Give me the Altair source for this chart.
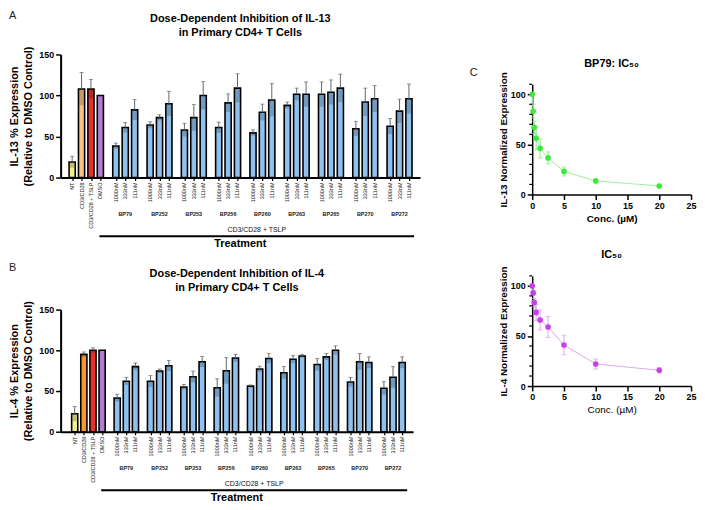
import altair as alt
import pandas as pd

# ---------------- data ----------------
controls = ["NT", "CD3/CD28", "CD3/CD28 + TSLP", "DMSO"]
compounds = ["BP79", "BP252", "BP253", "BP256", "BP260", "BP263", "BP265", "BP270", "BP272"]
doses = ["1000nM", "333nM", "111nM"]

il13_ctrl_mean = [19, 108, 108, 100]
il13_ctrl_err = [7, 20, 11.5, 0]
il13_mean = [[38.5, 61, 82.5], [64, 73, 90], [58, 73, 100], [61, 91, 109], [54.5, 79.5, 94.5],
             [88, 101.5, 101.5], [101.5, 104, 109], [59.5, 92, 96], [62.5, 81, 96]]
il13_err = [[3.5, 6, 12.5], [4, 3.5, 15], [8, 16, 17], [6.5, 11, 17.5], [3.5, 10, 20],
            [4, 7.5, 15], [15, 15, 17], [9, 17, 16], [9.5, 14.5, 18]]

il4_ctrl_mean = [22, 95, 100, 100]
il4_ctrl_err = [9, 3, 3, 0]
il4_mean = [[41.5, 62, 80], [62, 74.5, 81], [55, 67.5, 86], [54, 75, 90.5], [56, 77, 90],
            [72.5, 89, 93], [82.5, 92, 100], [61, 86, 85], [53.5, 67, 85]]
il4_err = [[4.5, 4.5, 4.5], [7, 2.5, 6.5], [3, 7, 6.5], [11, 16, 4.5], [1.5, 3.5, 6],
           [7.5, 4.5, 2], [7.5, 4, 5.5], [5.5, 10, 7], [8, 13, 7]]

conc = [0, 0.156, 0.3125, 0.625, 1.25, 2.5, 5, 10, 20]
il13_ic = [100, 83, 67, 56, 46, 36.5, 23, 13.5, 8.5]
il13_ic_err = [0, 7, 6, 11.5, 9.5, 6, 4.5, 1.5, 1]
il4_ic = [100, 93, 83.5, 73.5, 66, 59, 41, 22, 15.8]
il4_ic_err = [0, 2, 4, 8, 10, 10.5, 9.7, 5, 2.7]
minor_ticks = [10, 20, 30, 40, 60, 70, 80, 90, 110]

ctrl_colors_a = ["#f3ef8c", "#f8c37e", "#e8312b", "#b27ccf"]
ctrl_colors_b = ["#f3ef8c", "#f29a30", "#ea2f2a", "#b27ccf"]
treat_color = "#8fc1ef"

FONT = "Liberation Sans, Arial, Helvetica, sans-serif"


def bar_panel(ctrl_mean, ctrl_err, mean, err, ctrl_colors, title, ytitle, letter, letter_y,
              width, plot_h, top, xdom):
    rows = []
    for i, lab in enumerate(controls):
        rows.append(dict(pos=float(i), label=lab, mean=ctrl_mean[i], err=ctrl_err[i], fill=ctrl_colors[i]))
    for g in range(len(compounds)):
        for k, d in enumerate(doses):
            rows.append(dict(pos=round(4.65 + g * 3.65 + k, 2), label=d, mean=mean[g][k],
                             err=err[g][k], fill=treat_color))
    df = pd.DataFrame(rows)
    df["lo"] = df["mean"] - df["err"]
    df["hi"] = df["mean"] + df["err"]
    dfe = df[df["err"] > 0]

    H = top + plot_h
    xscale = alt.Scale(domain=xdom, nice=False, zero=False)
    yscale = alt.Scale(domain=[0, 150], nice=False, range=[H, top])
    xaxis = alt.Axis(values=list(df["pos"]), labels=False, tickSize=3, tickWidth=1.2, tickColor="black",
                     domainWidth=2, domainColor="black", grid=False, title=None)
    yaxis = alt.Axis(values=[0, 50, 100, 150], title=ytitle, titleFontSize=11, titleFontWeight="bold",
                     titleLineHeight=14, titlePadding=5, labelFontSize=9, labelFontWeight="bold",
                     labelColor="black", labelPadding=2, tickSize=5, tickWidth=1.5, tickColor="black",
                     domainWidth=2, domainColor="black", grid=False, titleColor="black")

    def X(f="pos"):
        return alt.X(f + ":Q", scale=xscale, axis=xaxis)

    def Y(f):
        return alt.Y(f + ":Q", scale=yscale, axis=yaxis)

    bars = alt.Chart(df).mark_bar(size=6.2, stroke="black", strokeWidth=1.6, orient="vertical").encode(
        x=X(), y=Y("mean"), fill=alt.Fill("fill:N", scale=None))
    shade = alt.Chart(dfe).mark_bar(size=4.4, color="#000", opacity=0.2, orient="vertical").encode(
        x=X(), y=Y("lo"), y2="mean:Q")
    errs = alt.Chart(dfe).mark_rule(color="#666", strokeWidth=1).encode(
        x=X(), y=Y("mean"), y2="hi:Q")
    caps = alt.Chart(dfe).mark_tick(color="#666", thickness=1, size=4, orient="horizontal").encode(
        x=X(), y=Y("hi"))
    tick_labels = alt.Chart(df).mark_text(fontSize=5.5, angle=270, align="right", baseline="middle",
                                          color="#222").encode(
        x=X(), y=alt.value(H + 5), text="label:N")

    grp = pd.DataFrame({"compound": compounds,
                        "center": [round(4.65 + g * 3.65 + 1, 2) for g in range(len(compounds))]})
    grp_text = alt.Chart(grp).mark_text(fontSize=5.5, fontWeight="bold", color="#222").encode(
        x=X("center"), y=alt.value(H + 36.5), text="compound:N")

    span = pd.DataFrame({"x1": [2.9], "x2": [36.4], "mid": [(2.9 + 36.4) / 2],
                         "txt": ["CD3/CD28 + TSLP"]})
    line = alt.Chart(span).mark_rule(color="black", strokeWidth=2).encode(
        x=X("x1"), x2="x2:Q", y=alt.value(H + 59))
    line_text = alt.Chart(span).mark_text(fontSize=7, color="#111").encode(
        x=X("mid"), y=alt.value(H + 52.5), text="txt:N")
    treat = alt.Chart(span).mark_text(fontSize=11, fontWeight="bold", color="black").encode(
        x=alt.value(width / 2), y=alt.value(H + 67), text=alt.value("Treatment"))
    letter_mark = alt.Chart(span).mark_text(fontSize=11, align="left", baseline="top",
                                            color="#222").encode(
        x=alt.value(-52), y=alt.value(top + letter_y), text=alt.value(letter))
    t1 = alt.Chart(span).mark_text(fontSize=11, fontWeight="bold", color="black").encode(
        x=alt.value(width / 2), y=alt.value(top - 36), text=alt.value(title[0]))
    t2 = alt.Chart(span).mark_text(fontSize=11, fontWeight="bold", color="black").encode(
        x=alt.value(width / 2), y=alt.value(top - 21.5), text=alt.value(title[1]))

    return alt.layer(bars, shade, errs, caps, tick_labels, grp_text, line, line_text, treat,
                     letter_mark, t1, t2).properties(width=width, height=H)


def ic_panel(vals, errs_, pt_color, line_color, err_color, title, ytitle, letter, xtitle_weight,
             top, title_y):
    df = pd.DataFrame({"conc": conc, "val": vals, "err": errs_})
    df["lo"] = df["val"] - df["err"]
    df["hi"] = df["val"] + df["err"]
    dfe = df[df["err"] > 0]
    H = top + 111
    xscale = alt.Scale(domain=[0, 25], nice=False)
    yscale = alt.Scale(domain=[0, 110], nice=False, range=[H, top])
    xaxis = alt.Axis(values=[0, 5, 10, 15, 20, 25], title="Conc. (µM)", titleFontSize=10,
                     titleFontWeight=xtitle_weight, titlePadding=3, labelFontSize=9, labelFontWeight="bold",
                     labelColor="black", tickSize=5, tickWidth=1.5, tickColor="black", domainWidth=1.5,
                     domainColor="black", grid=False, titleColor="black", labelFlush=False)
    yaxis = alt.Axis(values=[0, 50, 100], title=ytitle, titleFontSize=10,
                     titleFontWeight="bold", titlePadding=2, labelFontSize=9, labelFontWeight="bold",
                     labelColor="black", tickSize=5, tickWidth=1.5, tickColor="black", domainWidth=1.5,
                     domainColor="black", grid=False, titleColor="black", labelPadding=2)

    def X():
        return alt.X("conc:Q", scale=xscale, axis=xaxis)

    def Y(f):
        return alt.Y(f + ":Q", scale=yscale, axis=yaxis)

    line = alt.Chart(df).mark_line(color=line_color, strokeWidth=1).encode(x=X(), y=Y("val"))
    eb = alt.Chart(dfe).mark_rule(color=err_color, strokeWidth=1).encode(x=X(), y=Y("lo"), y2="hi:Q")
    cap_hi = alt.Chart(dfe).mark_tick(color=err_color, thickness=1, size=5, orient="horizontal").encode(
        x=X(), y=Y("hi"))
    cap_lo = alt.Chart(dfe).mark_tick(color=err_color, thickness=1, size=5, orient="horizontal").encode(
        x=X(), y=Y("lo"))
    pts = alt.Chart(df).mark_circle(size=32, color=pt_color, opacity=1).encode(x=X(), y=Y("val"))
    mt = alt.Chart(pd.DataFrame({"t": minor_ticks})).mark_rule(color="black", strokeWidth=1.2).encode(
        y=Y("t"), x=alt.value(-3), x2=alt.value(0))
    one = df.head(1)
    ttl = alt.Chart(one).mark_text(fontSize=11, fontWeight="bold", color="black").encode(
        x=alt.value(80), y=alt.value(title_y), text=alt.value(title))
    layers = [line, eb, cap_hi, cap_lo, pts, mt, ttl]
    if letter:
        lt = alt.Chart(one).mark_text(fontSize=11, color="#222").encode(
            x=alt.value(-59), y=alt.value(top - 11), text=alt.value(letter))
        layers.append(lt)
    return alt.layer(*layers).properties(width=160, height=H)


panel_a = bar_panel(il13_ctrl_mean, il13_ctrl_err, il13_mean, il13_err, ctrl_colors_a,
                    ["Dose-Dependent Inhibition of IL-13", "in Primary CD4+ T Cells"],
                    ["IL-13 % Expression", "(Relative to DMSO Control)"], "A", -45,
                    362, 124, 0, [-0.7, 36.5])
panel_b = bar_panel(il4_ctrl_mean, il4_ctrl_err, il4_mean, il4_err, ctrl_colors_b,
                    ["Dose-Dependent Inhibition of IL-4", "in Primary CD4+ T Cells"],
                    ["IL-4 % Expression", "(Relative to DMSO Control)"], "B", -48,
                    355, 123, 34, [-1.0, 36.5])

panel_c = ic_panel(il13_ic, il13_ic_err, "#3de83d", "#9cf09c", "#86e886", "BP79: IC₅₀",
                   "IL-13 Normalized Expression", "C", "bold", 30, 10)
panel_d = ic_panel(il4_ic, il4_ic_err, "#c63fe8", "#dca6ee", "#d9a3ec", "IC₅₀",
                   "IL-4 Normalized Expression", "", "normal", 0, -21)

chart = alt.concat(panel_a, panel_c, panel_b, panel_d, columns=2,
                   spacing={"row": 82, "column": 113}, bounds="flush").properties(
    padding=0).configure(font=FONT).configure_view(stroke=None)

chart.save("out.html", embed_options={"renderer": "svg", "actions": False})
